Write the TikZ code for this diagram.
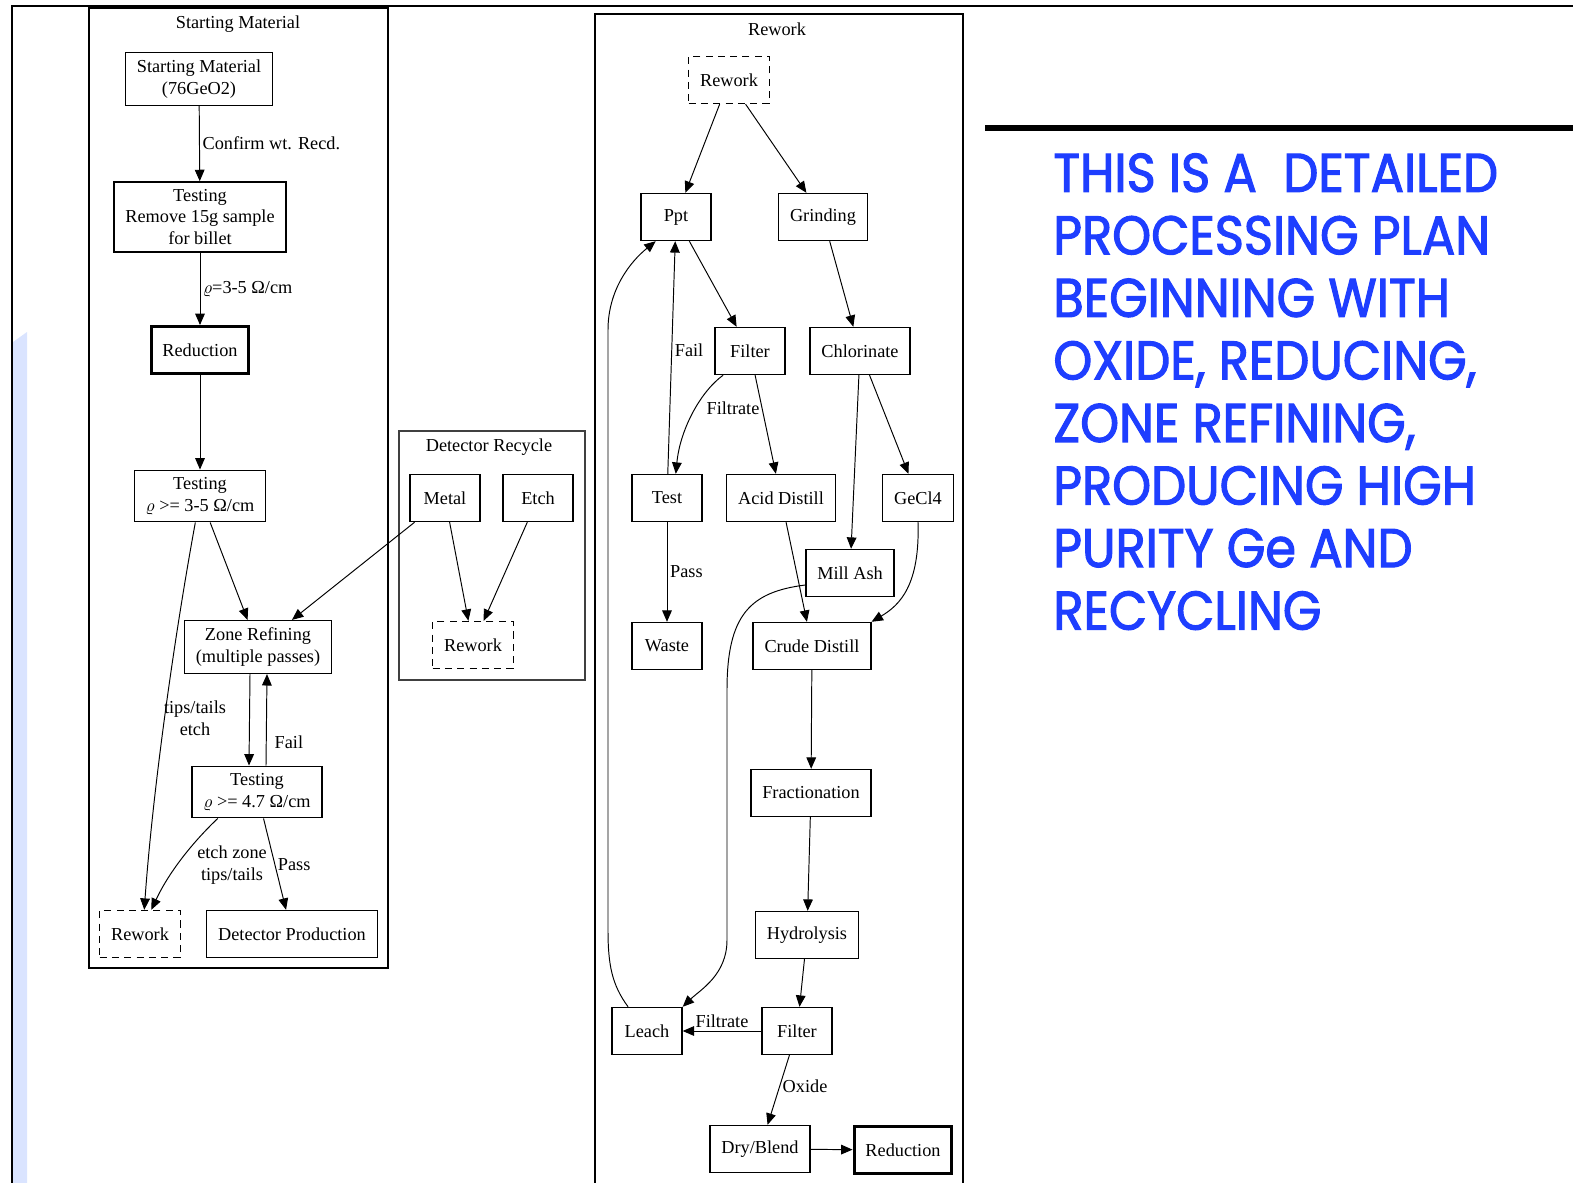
\documentclass[tikz,border=0pt]{standalone}
\usepackage{fontspec}
\setmainfont{Liberation Serif}
\newfontfamily\headfont[FakeStretch=0.91, FakeBold=2]{Poppins}
\usetikzlibrary{arrows.meta}
\definecolor{headblue}{RGB}{30,62,255}
\definecolor{stripe}{RGB}{218,228,255}

\begin{document}
\begin{tikzpicture}[x=0.02cm, y=-0.02cm,
    every node/.style={font=\fontsize{10.4}{12.5}\selectfont},
    box/.style={draw, line width=0.8pt, align=center, minimum width=1.4cm, minimum height=0.94cm, inner xsep=6.5pt, inner ysep=4pt},
    thickbox/.style={box, line width=1.7pt},
    dashbox/.style={box, dash pattern=on 4pt off 3pt},
    lbl/.style={inner sep=1.5pt, align=center},
    edge/.style={line width=0.55pt, -{Triangle[length=6.5pt,width=5.5pt]}},
    cluster/.style={line width=0.9pt},
    headtxt/.style={font=\headfont\fontsize{31}{35.6}\selectfont, text=headblue, align=left, anchor=north west, inner sep=0pt}]

    \useasboundingbox (0,0) rectangle (1573,1183);

    % page frame
    \fill[stripe] (13,342) -- (27,332) -- (27,1183) -- (13,1183) -- cycle;
    \draw[line width=1.1pt] (12,1190) -- (12,6) -- (1573,6);
    \draw[line width=3.2pt] (985,128) -- (1573,128);

    % clusters
    \draw[cluster] (89,8) rectangle (388,968);
    \draw[cluster, line width=0.7pt, black!75] (399,431) rectangle (585,680);
    \draw[cluster] (595,1190) -- (595,14) -- (963,14) -- (963,1190);
    \node[lbl] (tsm) at (238,24) {Starting Material};
    \node[lbl] (tdr) at (489,447) {Detector Recycle};
    \node[lbl] (trw) at (777,29) {Rework};

    % starting material
    \node[box] (sm) at (199,79) {Starting Material\\(76GeO2)};
    \node[box] (test1) at (200,217) {Testing\\Remove 15g sample\\for billet};
    \node[thickbox] (red1) at (200,350) {Reduction};
    \node[box] (test2) at (200,496) {Testing\\$\varrho$ >= 3-5 Ω/cm};
    \node[box] (zone) at (258,647) {Zone Refining\\(multiple passes)};
    \node[box] (test3) at (257,792) {Testing\\$\varrho$ >= 4.7 Ω/cm};
    \node[dashbox] (rw1) at (140,934) {Rework};
    \node[box] (det) at (292,934) {Detector Production};

    % detector recycle
    \node[box] (metal) at (445,498) {Metal};
    \node[box] (etch) at (538,498) {Etch};
    \node[dashbox] (rw2) at (473,645) {Rework};

    % rework
    \node[dashbox] (rw3) at (729,80) {Rework};
    \node[box] (ppt) at (676,217) {Ppt};
    \node[box] (grind) at (823,217) {Grinding};
    \node[box] (filt1) at (750,351) {Filter};
    \node[box] (chlor) at (860,351) {Chlorinate};
    \node[box] (test) at (667,498) {Test};
    \node[box] (acid) at (781,498) {Acid Distill};
    \node[box] (gecl) at (918,498) {GeCl4};
    \node[box] (mill) at (850,573) {Mill Ash};
    \node[box] (waste) at (667,646) {Waste};
    \node[box] (crude) at (812,646) {Crude Distill};
    \node[box] (frac) at (811,793) {Fractionation};
    \node[box] (hydro) at (807,935) {Hydrolysis};
    \node[box] (leach) at (647,1031) {Leach};
    \node[box] (filt2) at (797,1031) {Filter};
    \node[box] (dry) at (760,1149) {Dry/Blend};
    \node[thickbox] (red2) at (903,1150) {Reduction};

    \draw[edge] (sm) -- (test1) node[lbl, right, pos=0.5] {Confirm wt. Recd.};
    \draw[edge] (test1) -- (red1) node[lbl, right, pos=0.5] {$\varrho$=3-5 Ω/cm};
    \draw[edge] (red1) -- (test2);
    \draw[edge] (test2) -- (zone);
    \draw[edge] (test2.-100) .. controls (172,650) and (152,800) .. (rw1.80);
    \node[lbl] (ltips) at (195,718) {tips/tails\\etch};
    \draw[edge] ([xshift=-0.16cm]zone.south) -- ([xshift=-0.16cm]test3.north);
    \draw[edge] ([xshift=0.18cm]test3.north) -- ([xshift=0.18cm]zone.south) node[lbl, right=3pt, pos=0.26] {Fail};
    \draw[edge] (test3.-146) .. controls (195,840) and (170,870) .. (rw1.65);
    \node[lbl] (letch) at (232,865) {etch zone\\tips/tails};
    \draw[edge] (test3) -- (det) node[lbl, right, pos=0.5] {Pass};

    \draw[edge] (metal) -- (zone);
    \draw[edge] (metal) -- (rw2);
    \draw[edge] (etch) -- (rw2);

    \draw[edge] (rw3) -- (ppt);
    \draw[edge] (rw3) -- (grind);
    \draw[edge] (ppt) -- (filt1);
    \draw[edge] (grind) -- (chlor);
    \draw[edge] (filt1.-138) .. controls (700,392) and (680,430) .. (test.70);
    \node[lbl] (lfiltr) at (733,408) {Filtrate};
    \draw[edge] (filt1) -- (acid);
    \draw[edge] (test) -- (ppt) node[lbl, right, pos=0.53] {Fail};
    \draw[edge] (chlor) -- (mill);
    \draw[edge] (chlor) -- (gecl);
    \draw[edge] (test) -- (waste) node[lbl, right, pos=0.5] {Pass};
    \draw[edge] (acid) -- (crude);
    \draw[edge] (gecl.-90) .. controls (920,585) and (900,605) .. (crude.north east);
    \draw[edge] (mill.195) .. controls (750,592) and (727,615) .. (727,690) -- (727,940) .. controls (727,975) and (700,990) .. (leach.north east);
    \draw[edge] (leach.128) .. controls (612,985) and (608,965) .. (608,930) -- (608,330) .. controls (608,290) and (630,262) .. (ppt.-130);
    \draw[edge] (crude) -- (frac);
    \draw[edge] (frac) -- (hydro);
    \draw[edge] (hydro) -- (filt2);
    \draw[edge] (filt2) -- (leach) node[lbl, above, pos=0.5] {Filtrate};
    \draw[edge] (filt2) -- (dry) node[lbl, right, pos=0.45] {Oxide};
    \draw[edge] (dry) -- (red2);

    \node[headtxt] (head) at (1053,153) {THIS IS A\ \ DETAILED\\PROCESSING PLAN\\BEGINNING WITH\\OXIDE, REDUCING,\\ZONE REFINING,\\PRODUCING HIGH\\PURITY Ge AND\\RECYCLING};
\end{tikzpicture}
\end{document}
